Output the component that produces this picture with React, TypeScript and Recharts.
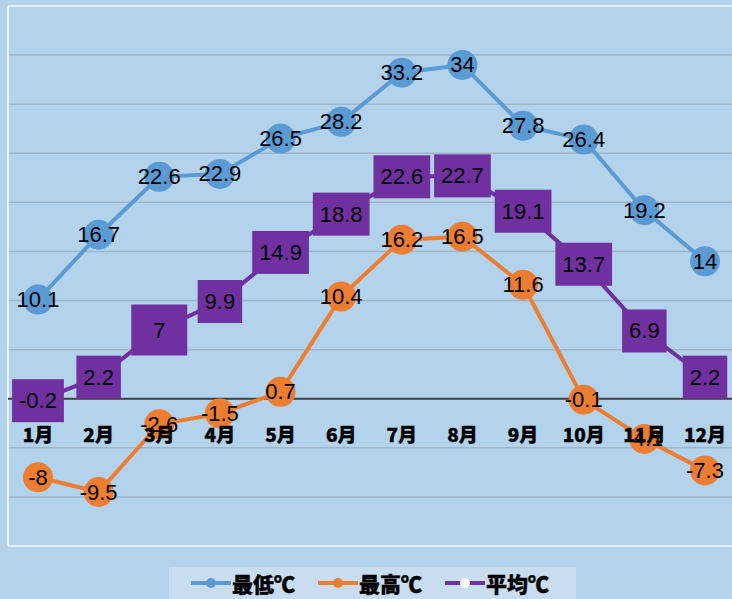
import React from 'react';
import {
  LineChart,
  Line,
  XAxis,
  YAxis,
  CartesianGrid,
  ReferenceLine,
  LabelList,
  Legend,
} from 'recharts';

const months = ['1月', '2月', '3月', '4月', '5月', '6月', '7月', '8月', '9月', '10月', '11月', '12月'];
const lowValues = [10.1, 16.7, 22.6, 22.9, 26.5, 28.2, 33.2, 34, 27.8, 26.4, 19.2, 14];
const highValues = [-8, -9.5, -2.6, -1.5, 0.7, 10.4, 16.2, 16.5, 11.6, -0.1, -4.1, -7.3];
const avgValues = [-0.2, 2.2, 7, 9.9, 14.9, 18.8, 22.6, 22.7, 19.1, 13.7, 6.9, 2.2];
const yTicks = [-15, -10, -5, 0, 5, 10, 15, 20, 25, 30, 35, 40];

const seriesNames = { low: '最低℃', high: '最高℃', avg: '平均℃' };
const colors = { low: '#5b9bd5', high: '#ed7d31', avg: '#7030a0' };

const data = months.map((m, i) => ({
  month: m,
  low: lowValues[i],
  high: highValues[i],
  avg: avgValues[i],
}));

const BG = '#b3d3ec';
const NUM_FONT = '"Liberation Sans", Arial, sans-serif';
const JP_FONT = '"Noto Sans CJK JP", "Noto Sans", sans-serif';

const MonthTick = (props: any) => {
  const { x, y, payload } = props;
  return (
    <text
      x={x}
      y={y - 104}
      textAnchor="middle"
      fontFamily={JP_FONT}
      fontWeight={900}
      fontSize={19}
      fill="#000"
      stroke="#000"
      strokeWidth={0.4}
    >
      {payload.value}
    </text>
  );
};

const PlainLabel = (props: any) => {
  const { x, y, value } = props;
  return (
    <text
      x={x}
      y={y}
      textAnchor="middle"
      dominantBaseline="central"
      fontFamily={NUM_FONT}
      fontSize={22}
      fill="#000"
    >
      {value}
    </text>
  );
};

const textWidth = (s: string) => {
  let w = 0;
  for (const c of s) {
    if (c === '.') w += 6.1;
    else if (c === '-') w += 7.3;
    else w += 12.2;
  }
  return w;
};

const BoxLabel = (props: any) => {
  const { x, y, value } = props;
  const s = String(value);
  const single = s.length === 1;
  const w = single ? 56 : Math.max(43, textWidth(s) + 14);
  const h = single ? 51 : 43;
  return (
    <g>
      <rect x={x - w / 2} y={y - h / 2} width={w} height={h} fill={colors.avg} />
      <text
        x={x}
        y={y}
        textAnchor="middle"
        dominantBaseline="central"
        fontFamily={NUM_FONT}
        fontSize={22}
        fill="#000"
      >
        {s}
      </text>
    </g>
  );
};

const LegendContent = () => {
  const items = [
    { key: 'low', name: seriesNames.low, color: colors.low, dot: colors.low },
    { key: 'high', name: seriesNames.high, color: colors.high, dot: colors.high },
    { key: 'avg', name: seriesNames.avg, color: colors.avg, dot: '#ffffff' },
  ];
  return (
    <div
      style={{
        background: '#c8ddef',
        width: 407,
        height: 34,
        display: 'flex',
        alignItems: 'center',
        justifyContent: 'center',
        gap: 22,
        boxSizing: 'border-box',
        paddingBottom: 2,
        paddingRight: 6,
      }}
    >
      {items.map((it) => (
        <div key={it.key} style={{ display: 'flex', alignItems: 'center' }}>
          <svg width={42} height={12}>
            <line x1={1} y1={6} x2={41} y2={6} stroke={it.color} strokeWidth={4} />
            <circle cx={21} cy={6} r={5} fill={it.dot} />
          </svg>
          <span
            style={{
              fontFamily: JP_FONT,
              fontWeight: 900,
              fontSize: 21,
              color: '#000',
              lineHeight: '22px',
              WebkitTextStroke: '0.4px #000',
            }}
          >
            {it.name}
          </span>
        </div>
      ))}
    </div>
  );
};

const edgeX = ({ offset }: any) => [offset.left, offset.left + offset.width];
const edgeY = ({ offset }: any) => [offset.top, offset.top + offset.height];

export default function App() {
  return (
    <div style={{ width: 732, height: 599, overflow: 'hidden', background: BG, position: 'relative' }}>
      <style>{'body{margin:0;}'}</style>
      <LineChart
        width={740}
        height={599}
        data={data}
        margin={{ top: 6, right: 5, left: 8, bottom: 0 }}
      >
        <CartesianGrid vertical={false} stroke="#9fb5c9" strokeWidth={1.5} />
        <CartesianGrid
          horizontal={false}
          verticalCoordinatesGenerator={edgeX}
          stroke="#ffffff"
          strokeWidth={1.5}
        />
        <CartesianGrid
          vertical={false}
          horizontalCoordinatesGenerator={edgeY}
          stroke="#ffffff"
          strokeWidth={1.5}
        />
        <XAxis
          dataKey="month"
          height={19}
          axisLine={false}
          tickLine={false}
          tickSize={0}
          tickMargin={0}
          interval={0}
          padding={{ left: 30, right: 30 }}
          tick={<MonthTick />}
        />
        <YAxis hide domain={[-15, 40]} ticks={yTicks} />
        <ReferenceLine y={0} stroke="#404040" strokeWidth={2} />
        <Legend
          verticalAlign="bottom"
          content={<LegendContent />}
          wrapperStyle={{ left: 169, width: 407, bottom: -2 }}
        />
        <Line
          type="linear"
          dataKey="low"
          name={seriesNames.low}
          stroke={colors.low}
          strokeWidth={4}
          dot={{ r: 15, fill: colors.low, stroke: 'none' }}
          isAnimationActive={false}
        >
          <LabelList dataKey="low" content={<PlainLabel />} />
        </Line>
        <Line
          type="linear"
          dataKey="high"
          name={seriesNames.high}
          stroke={colors.high}
          strokeWidth={4}
          dot={{ r: 15, fill: colors.high, stroke: 'none' }}
          isAnimationActive={false}
        >
          <LabelList dataKey="high" content={<PlainLabel />} />
        </Line>
        <Line
          type="linear"
          dataKey="avg"
          name={seriesNames.avg}
          stroke={colors.avg}
          strokeWidth={4}
          dot={false}
          isAnimationActive={false}
        >
          <LabelList dataKey="avg" content={<BoxLabel />} />
        </Line>
      </LineChart>
    </div>
  );
}
